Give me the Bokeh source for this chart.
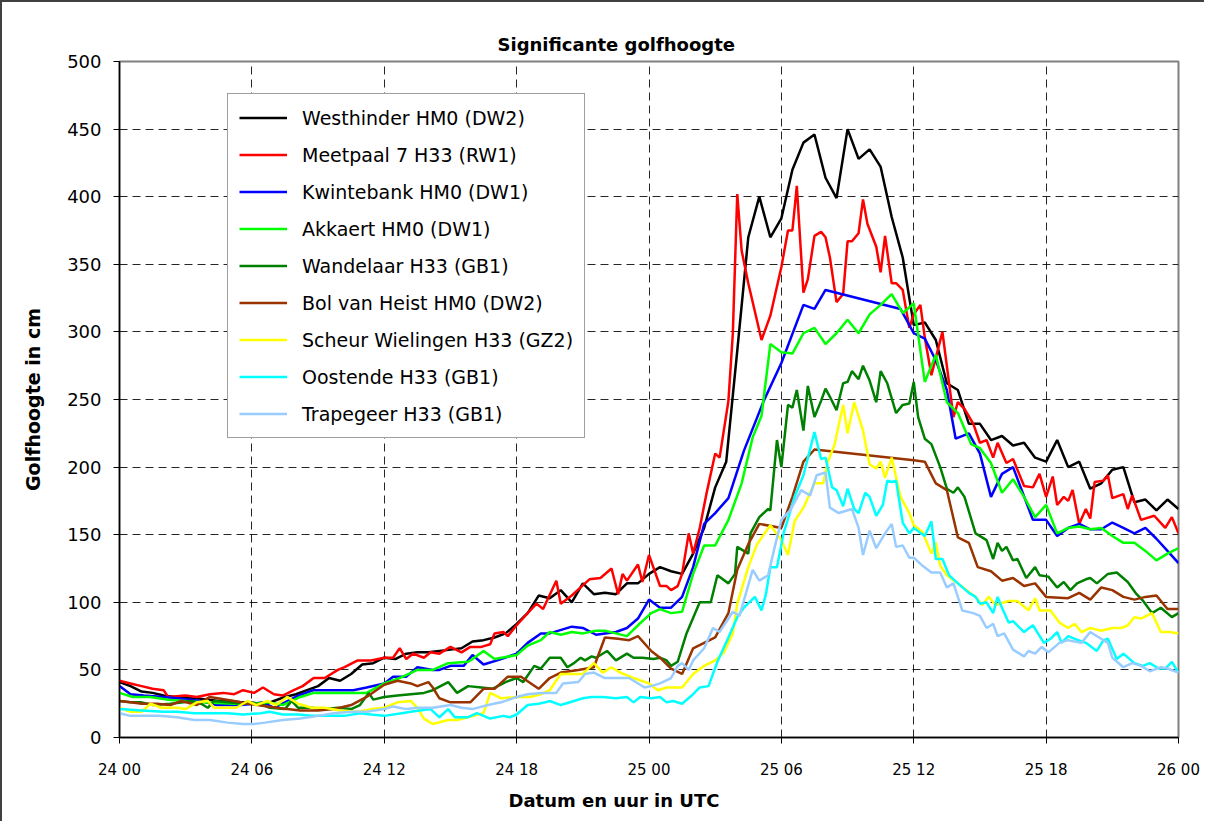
from bokeh.plotting import figure
from bokeh.models import FixedTicker, Legend, LegendItem, Range1d, Title
from bokeh.embed import file_html
from bokeh.resources import INLINE

# ---------------- texts ----------------
title_text = "Significante golfhoogte"
x_label = "Datum en uur in UTC"
y_label = "Golfhoogte in cm"
x_tick_labels = ["24 00", "24 06", "24 12", "24 18", "25 00", "25 06", "25 12", "25 18", "26 00"]
x_tick_hours = [0, 6, 12, 18, 24, 30, 36, 42, 48]
y_ticks = [0, 50, 100, 150, 200, 250, 300, 350, 400, 450, 500]

series_names = [
    "Westhinder HM0 (DW2)",
    "Meetpaal 7 H33 (RW1)",
    "Kwintebank HM0 (DW1)",
    "Akkaert HM0 (DW1)",
    "Wandelaar H33 (GB1)",
    "Bol van Heist HM0 (DW2)",
    "Scheur Wielingen H33 (GZ2)",
    "Oostende H33 (GB1)",
    "Trapegeer H33 (GB1)",
]
series_colors = ["#000000", "#FF0000", "#0000FF", "#00FF00", "#008000",
                 "#993300", "#FFFF00", "#00FFFF", "#99CCFF"]

# ---------------- data (hours after 24 00 UTC, wave height in cm) ----------------
westhinder_v = [41, 38, 34, 33, 31, 30, 29, 29, 28, 27, 27, 26, 26, 24, 27, 30, 32, 35, 38, 44,
                42, 47, 54, 55, 59, 58, 62, 63, 63, 64, 65, 66, 71, 72, 74, 77, 84, 92, 105, 103,
                109, 100, 114, 106, 107, 106, 114, 114, 121, 126, 123, 121, 136, 155, 185, 204, 286, 370, 400, 370,
                384, 420, 440, 446, 414, 399, 450, 428, 435, 422, 385, 355, 305, 307, 294, 262, 257, 232, 232, 220,
                223, 216, 218, 207, 204, 220, 200, 204, 184, 188, 198, 200, 174, 176, 168, 176, 169]
westhinder_t = [i * 0.5 for i in range(len(westhinder_v))]

meetpaal_t = [0, 0.5, 1, 1.5, 2, 2.2, 3, 3.5, 4.1, 4.7, 5.2, 5.6, 6.1, 6.5, 7, 7.4, 7.9, 8.3, 8.8, 9.3,
              9.9, 10.2, 10.8, 11.4, 12, 12.4, 12.7, 13, 13.3, 13.8, 14.1, 14.5, 15, 15.5, 15.9, 16.4, 16.8, 17, 17.4, 17.6,
              18, 18.5, 18.9, 19.2, 19.8, 20, 20.5, 20.9, 21.3, 21.8, 22.3, 22.6, 22.8, 23, 23.5, 23.7, 24, 24.5, 24.8, 25,
              25.3, 25.5, 25.8, 26, 26.3, 26.6, 27, 27.2, 27.6, 27.8, 28, 28.2, 28.5, 29.1, 29.5, 30, 30.3, 30.5, 30.7, 31,
              31.2, 31.5, 31.8, 32, 32.2, 32.5, 32.8, 33, 33.2, 33.5, 33.7, 33.9, 34.3, 34.5, 34.7, 35, 35.2, 35.5, 35.8, 36,
              36.3, 36.5, 36.8, 37.3, 37.8, 38, 38.3, 38.7, 39, 39.3, 39.6, 39.8, 40.2, 40.5, 41, 41.4, 41.7, 42, 42.3, 42.5,
              42.8, 43, 43.2, 43.5, 43.8, 44, 44.2, 44.6, 44.8, 45, 45.5, 45.7, 45.9, 46.3, 46.9, 47.4, 47.7, 48]
meetpaal_v = [42, 40, 38, 36, 35, 30, 31, 30, 32, 33, 32, 35, 33, 37, 32, 31, 35, 38, 44, 44,
              50, 52, 57, 57, 59, 59, 66, 58, 62, 59, 63, 62, 67, 63, 67, 67, 69, 77, 78, 75,
              83, 92, 99, 95, 116, 99, 105, 111, 117, 118, 125, 106, 121, 116, 128, 115, 135, 112, 112, 109,
              112, 121, 151, 136, 155, 180, 210, 207, 249, 299, 402, 360, 336, 294, 312, 348, 375, 375, 408, 329,
              339, 371, 374, 370, 355, 322, 328, 367, 367, 373, 398, 380, 363, 344, 371, 336, 336, 331, 303, 313,
              320, 296, 268, 300, 237, 248, 243, 232, 218, 220, 207, 218, 203, 206, 186, 185, 195, 178, 193, 172,
              178, 175, 183, 158, 169, 162, 189, 190, 194, 177, 180, 169, 179, 161, 164, 155, 163, 151]

kwintebank_t = [0, 0.5, 1.1, 2, 2.6, 3.7, 4.4, 5.5, 6.1, 6.5, 7, 7.5, 8.1, 8.8, 9.7, 10.6, 11.2, 12, 12.4, 13,
                13.5, 14.2, 14.5, 15, 15.6, 16, 16.5, 17.3, 18, 18.5, 19.1, 19.5, 20.5, 21, 21.6, 22.5, 23, 23.5, 24, 24.5,
                25, 25.5, 26, 26.5, 27, 27.6, 28.3, 29.2, 30, 31, 31.5, 32, 35.4, 36, 36.5, 37, 37.5, 37.9, 38.5, 39,
                39.5, 40, 40.5, 41.4, 42, 42.5, 43, 43.5, 44, 44.5, 45, 45.5, 46, 46.5, 47, 47.5, 48]
kwintebank_v = [38, 32, 31, 30, 29, 27, 24, 24, 25, 26, 22, 26, 31, 35, 35, 35, 37, 40, 45, 45,
                52, 50, 50, 53, 53, 61, 54, 58, 62, 70, 77, 77, 82, 81, 76, 78, 81, 88, 102, 96,
                96, 104, 126, 158, 166, 177, 212, 249, 277, 320, 317, 331, 317, 299, 295, 279, 257, 221, 225, 210,
                178, 195, 200, 161, 161, 149, 155, 158, 154, 154, 159, 155, 151, 155, 147, 138, 129]

akkaert_t = [0, 0.6, 1.4, 2.2, 3.7, 5.2, 6.1, 6.7, 7.4, 8.2, 8.8, 9.7, 10.6, 11.2, 12, 12.7, 13.5, 14.2, 14.9, 15.8,
             16, 16.5, 17, 18, 18.5, 19.1, 19.5, 20, 20.5, 21, 21.6, 22, 22.5, 23, 23.5, 24.1, 24.5, 25, 25.5, 26,
             26.5, 27, 27.6, 28.2, 28.7, 29.1, 29.5, 30, 30.5, 31, 31.5, 32, 32.5, 33, 33.5, 34, 34.5, 35, 35.5, 36,
             36.5, 37, 37.5, 38, 38.6, 39, 39.5, 40, 40.5, 41, 41.5, 42, 42.5, 43, 43.5, 44, 44.5, 45, 45.5, 46,
             46.5, 47, 47.5, 48]
akkaert_v = [33, 30, 30, 28, 26, 25, 25, 26, 24, 30, 33, 33, 33, 33, 40, 44, 50, 50, 55, 56,
             58, 64, 58, 61, 68, 72, 78, 76, 78, 77, 79, 79, 77, 75, 83, 92, 95, 92, 93, 121,
             142, 142, 161, 188, 222, 238, 291, 285, 284, 299, 303, 291, 299, 309, 299, 313, 320, 328, 314, 321,
             263, 283, 248, 240, 217, 214, 203, 181, 191, 178, 163, 172, 151, 155, 156, 154, 155, 149, 144, 144,
             138, 131, 136, 140]

wandelaar_t = [0, 0.5, 1, 1.5, 2.3, 2.9, 3.2, 3.7, 4, 4.3, 4.9, 5.6, 6.4, 6.8, 7.5, 7.8, 8.1, 8.7, 9.3, 9.9,
               10.5, 10.9, 11.3, 11.5, 12, 12.6, 13.2, 13.8, 14.2, 14.9, 15.3, 15.8, 16.4, 16.9, 17.5, 18, 18.3, 18.8, 19.1, 19.5,
               20, 20.3, 20.6, 20.9, 21.1, 21.4, 21.6, 22.1, 22.5, 23, 23.3, 23.7, 24.2, 24.5, 24.8, 25, 25.3, 25.7, 26.3, 26.8,
               27.1, 27.6, 27.9, 28, 28.5, 28.6, 29, 29.4, 29.5, 29.8, 30, 30.3, 30.5, 30.7, 31, 31.2, 31.5, 31.8, 32, 32.2,
               32.5, 32.8, 33, 33.2, 33.5, 33.7, 34, 34.3, 34.5, 34.8, 35.2, 35.5, 35.8, 36, 36.2, 36.5, 36.8, 37.2, 37.5, 37.8,
               38, 38.3, 38.8, 39.3, 39.6, 39.8, 40, 40.2, 40.5, 40.7, 41.1, 41.5, 41.7, 42.1, 42.5, 42.8, 43.1, 43.4, 43.8, 44,
               44.3, 44.8, 45.2, 45.7, 46.1, 46.4, 46.8, 47.2, 47.7, 48]
wandelaar_v = [27, 26, 26, 24, 25, 26, 27, 25, 22, 27, 26, 25, 25, 22, 21, 27, 22, 22, 21, 22,
               21, 24, 33, 28, 30, 31, 32, 33, 35, 41, 33, 38, 37, 36, 41, 44, 41, 53, 51, 59,
               59, 52, 55, 59, 57, 60, 59, 64, 57, 62, 59, 59, 58, 59, 57, 53, 56, 77, 100, 100,
               120, 114, 121, 141, 136, 151, 163, 169, 168, 220, 200, 246, 244, 257, 227, 260, 237, 249, 258, 252,
               242, 262, 263, 271, 265, 275, 264, 248, 271, 262, 240, 246, 247, 263, 237, 221, 217, 200, 184, 181,
               185, 178, 151, 146, 132, 144, 138, 141, 131, 132, 118, 126, 120, 119, 111, 115, 109, 114, 117, 118,
               114, 121, 122, 115, 106, 101, 92, 96, 89, 92]

bolvanheist_t = [0, 0.5, 1, 1.7, 2.3, 2.8, 3.5, 4.1, 5.2, 5.8, 6.7, 7.6, 8.2, 9, 9.7, 10.5, 11.2, 12, 12.6, 13.2,
                 13.5, 14, 14.2, 14.5, 15, 15.9, 16.5, 17, 17.6, 18.2, 19, 19.5, 20, 20.8, 21.5, 22, 22.6, 23.1, 23.5, 24.1,
                 24.5, 25, 25.5, 26, 26.5, 27, 27.6, 28, 28.5, 29, 30, 30.5, 31, 31.5, 36, 36.5, 37, 37.5, 38, 38.5,
                 38.9, 39.5, 40, 40.5, 41, 41.5, 42, 43, 43.5, 44, 44.5, 45, 45.5, 46, 46.5, 47, 47.5, 48]
bolvanheist_v = [27, 26, 25, 25, 24, 27, 24, 30, 27, 25, 23, 21, 20, 20, 21, 24, 30, 39, 42, 40,
                 38, 41, 37, 29, 26, 26, 36, 36, 45, 45, 36, 44, 48, 50, 52, 74, 73, 72, 75, 64,
                 59, 51, 47, 66, 70, 74, 92, 124, 143, 158, 155, 178, 204, 213, 205, 204, 188, 183, 148, 144,
                 126, 123, 116, 118, 112, 114, 104, 103, 107, 102, 111, 109, 104, 102, 104, 105, 95, 95]

scheur_t = [0, 0.5, 1, 1.4, 1.9, 2.6, 3, 3.5, 4, 4.3, 4.9, 5.3, 5.8, 6.2, 6.7, 7.1, 7.6, 8.1, 8.7, 9.3,
            10, 10.8, 11.4, 12, 12.6, 13.2, 13.5, 13.8, 14.2, 14.9, 15.3, 15.8, 16.5, 16.8, 17.3, 18, 18.6, 19.1, 19.5, 20,
            20.5, 21, 21.5, 21.9, 22.3, 22.7, 23.3, 24, 24.4, 24.8, 25.5, 26, 26.5, 27, 27.4, 27.8, 28, 28.5, 28.9, 29.5,
            30, 30.3, 30.6, 31, 31.5, 31.9, 32.1, 32.4, 32.8, 33, 33.3, 33.7, 34, 34.3, 34.5, 34.7, 35, 35.4, 35.8, 36,
            36.4, 36.8, 37, 37.2, 37.5, 38, 38.4, 38.8, 39.1, 39.4, 39.7, 40.3, 40.7, 41.2, 41.5, 41.7, 42.2, 42.6, 43, 43.3,
            43.6, 44, 44.5, 45, 45.4, 45.7, 46, 46.3, 46.8, 47.2, 47.6, 48]
scheur_v = [22, 19, 19, 25, 22, 22, 21, 26, 27, 22, 22, 22, 27, 24, 27, 24, 30, 25, 22, 22,
            20, 19, 21, 22, 26, 27, 22, 14, 10, 13, 13, 15, 18, 33, 29, 30, 30, 32, 35, 47,
            47, 47, 55, 48, 52, 48, 44, 40, 35, 37, 37, 47, 53, 57, 63, 77, 99, 126, 143, 157,
            146, 135, 160, 170, 188, 188, 204, 216, 246, 225, 248, 227, 202, 199, 204, 192, 207, 178, 166, 157,
            152, 136, 144, 127, 120, 114, 109, 104, 98, 104, 98, 101, 101, 94, 103, 94, 94, 85, 81, 84,
            78, 81, 79, 81, 81, 83, 89, 88, 92, 78, 78, 77]

oostende_t = [0, 1, 2, 2.6, 3.4, 4.1, 4.9, 5.6, 6.4, 6.8, 7.4, 8.1, 8.7, 9.4, 10.2, 10.9, 11.4, 12, 12.8, 13.2,
              14.1, 14.5, 14.9, 15.2, 15.8, 16.2, 16.8, 17.4, 17.7, 18, 18.5, 19, 19.3, 19.5, 20, 20.6, 21, 21.4, 21.9, 22.5,
              23, 23.3, 23.6, 24.1, 24.5, 24.8, 25.1, 25.5, 26, 26.3, 26.7, 27.1, 27.6, 28, 28.3, 28.8, 29.1, 29.3, 29.5, 29.8,
              30.1, 30.6, 31, 31.5, 31.8, 32, 32.3, 32.5, 32.8, 33, 33.3, 33.5, 33.8, 34, 34.3, 34.6, 34.8, 35, 35.2, 35.5,
              35.8, 36, 36.5, 36.8, 37, 37.3, 37.6, 38, 38.5, 38.8, 39, 39.3, 39.6, 39.8, 40, 40.3, 40.5, 41, 41.4, 41.9,
              42.2, 42.5, 42.7, 43, 43.3, 43.8, 44.3, 44.6, 44.8, 45.2, 45.5, 46, 46.4, 46.7, 47.1, 47.4, 47.7, 48]
oostende_v = [21, 20, 19, 19, 18, 18, 18, 17, 18, 19, 17, 17, 16, 16, 16, 18, 17, 16, 18, 19,
              21, 15, 21, 15, 15, 18, 14, 16, 15, 17, 24, 25, 26, 27, 24, 27, 29, 30, 30, 29,
              30, 26, 30, 29, 30, 26, 27, 25, 32, 37, 38, 56, 74, 89, 96, 104, 94, 106, 126, 126,
              151, 178, 194, 226, 206, 207, 185, 183, 171, 184, 169, 166, 181, 178, 164, 172, 190, 189, 190, 159,
              151, 155, 149, 160, 132, 132, 120, 114, 107, 104, 99, 100, 92, 104, 96, 85, 86, 78, 83, 70,
              73, 78, 70, 75, 73, 70, 64, 72, 73, 58, 62, 55, 53, 55, 51, 51, 56, 48]

trapegeer_t = [0, 0.5, 1, 1.8, 2.6, 3.4, 4.1, 4.9, 5.6, 6.1, 6.6, 7.4, 8.2, 9, 9.7, 10.5, 11.2, 12, 12.4, 13,
               13.5, 14.2, 15, 15.5, 16, 16.7, 17.3, 18, 18.5, 19.1, 19.8, 20.1, 20.8, 21.1, 21.5, 22, 22.6, 23.1, 23.8, 24.1,
               24.5, 25, 25.3, 25.5, 25.8, 26, 26.5, 26.9, 27.2, 27.8, 28.1, 28.7, 29, 29.4, 29.7, 30, 30.4, 30.9, 31.3, 31.6,
               32, 32.2, 32.6, 33.2, 33.5, 33.7, 34, 34.3, 34.7, 35, 35.2, 35.5, 35.8, 36, 36.4, 36.8, 37.2, 37.5, 37.8, 38.2,
               38.7, 39, 39.3, 39.6, 39.8, 40.1, 40.5, 41, 41.2, 41.5, 41.8, 42.1, 42.6, 43, 43.6, 44, 44.4, 44.8, 45, 45.5,
               45.9, 46.3, 46.7, 47.2, 47.5, 48]
trapegeer_v = [18, 16, 16, 16, 15, 13, 13, 11, 10, 10, 11, 13, 14, 16, 18, 19, 19, 21, 23, 21,
               22, 22, 24, 22, 21, 24, 26, 30, 32, 33, 33, 40, 41, 47, 48, 44, 44, 44, 37, 38,
               40, 44, 53, 55, 50, 57, 66, 81, 78, 93, 90, 124, 116, 120, 141, 161, 168, 183, 179, 194,
               196, 170, 166, 169, 155, 135, 153, 140, 151, 158, 141, 142, 133, 133, 127, 122, 122, 111, 114, 94,
               92, 90, 81, 84, 75, 77, 65, 60, 64, 62, 67, 63, 70, 72, 70, 78, 74, 70, 59, 52,
               55, 53, 49, 52, 51, 48]

series_t = [westhinder_t, meetpaal_t, kwintebank_t, akkaert_t, wandelaar_t,
            bolvanheist_t, scheur_t, oostende_t, trapegeer_t]
series_v = [westhinder_v, meetpaal_v, kwintebank_v, akkaert_v, wandelaar_v,
            bolvanheist_v, scheur_v, oostende_v, trapegeer_v]

FONT = "DejaVu Sans"

p = figure(
    frame_width=1059, frame_height=676,
    min_border_left=117, min_border_top=59, min_border_right=26, min_border_bottom=84,
    x_range=Range1d(x_tick_hours[0], x_tick_hours[-1]),
    y_range=Range1d(y_ticks[0], y_ticks[-1]),
    output_backend="svg", toolbar_location=None,
    background_fill_color="white", border_fill_color="white",
)
p.styles = {"border-left": "2px solid #404040", "border-top": "2px solid #404040"}

p.outline_line_color = "#808080"
p.outline_line_width = 2

# title
p.title.text = title_text
p.title.text_font = FONT
p.title.text_font_size = "18px"
p.title.text_font_style = "bold"
p.title.text_color = "black"
p.title.align = "left"
p.title.offset = 378
p.title.standoff = 13

# axes
for ax in (p.xaxis[0], p.yaxis[0]):
    ax.axis_line_color = "black"
    ax.axis_line_width = 1.5
    ax.major_tick_line_color = "black"
    ax.major_tick_line_width = 1
    ax.major_tick_out = 6
    ax.major_tick_in = 0
    ax.minor_tick_line_color = None
    ax.major_label_text_font = FONT
    ax.major_label_text_color = "black"

p.xaxis.ticker = FixedTicker(ticks=x_tick_hours)
p.xaxis.major_label_overrides = {h: lab for h, lab in zip(x_tick_hours, x_tick_labels)}
p.xaxis.major_label_text_font_size = "15px"
p.xaxis.major_label_standoff = 17

p.yaxis.ticker = FixedTicker(ticks=y_ticks)
p.yaxis.major_label_text_font_size = "18px"
p.yaxis.major_label_standoff = 12
p.yaxis.axis_label = y_label
p.yaxis.axis_label_text_font = FONT
p.yaxis.axis_label_text_font_size = "19px"
p.yaxis.axis_label_text_font_style = "bold"
p.yaxis.axis_label_text_color = "black"
p.yaxis.axis_label_standoff = 20

# x axis title placed as a below-title so it can sit where the original has it
xlab = Title(text=x_label, align="left", offset=389, standoff=12,
             text_font=FONT, text_font_size="18px", text_font_style="bold", text_color="black")
p.add_layout(xlab, "below")

# grid
for g in (p.xgrid[0], p.ygrid[0]):
    g.grid_line_color = "black"
    g.grid_line_dash = "8 5"
    g.grid_line_width = 1
    g.grid_line_alpha = 0.85

# series
items = []
for name, color, t, v in zip(series_names, series_colors, series_t, series_v):
    r = p.line(t, v, line_color=color, line_width=2.5)
    items.append(LegendItem(label=name, renderers=[r]))

legend = Legend(items=items, location=(108, 299))
legend.label_text_font = FONT
legend.label_text_font_size = "19px"
legend.label_text_color = "black"
legend.glyph_width = 48
legend.glyph_height = 25
legend.label_height = 25
legend.label_standoff = 15
legend.spacing = 12
legend.padding = 11
legend.margin = 0
legend.border_line_color = "#404040"
legend.border_line_width = 1
legend.background_fill_color = "white"
legend.background_fill_alpha = 1
p.add_layout(legend)

open("out.html", "w").write(file_html(p, INLINE))
